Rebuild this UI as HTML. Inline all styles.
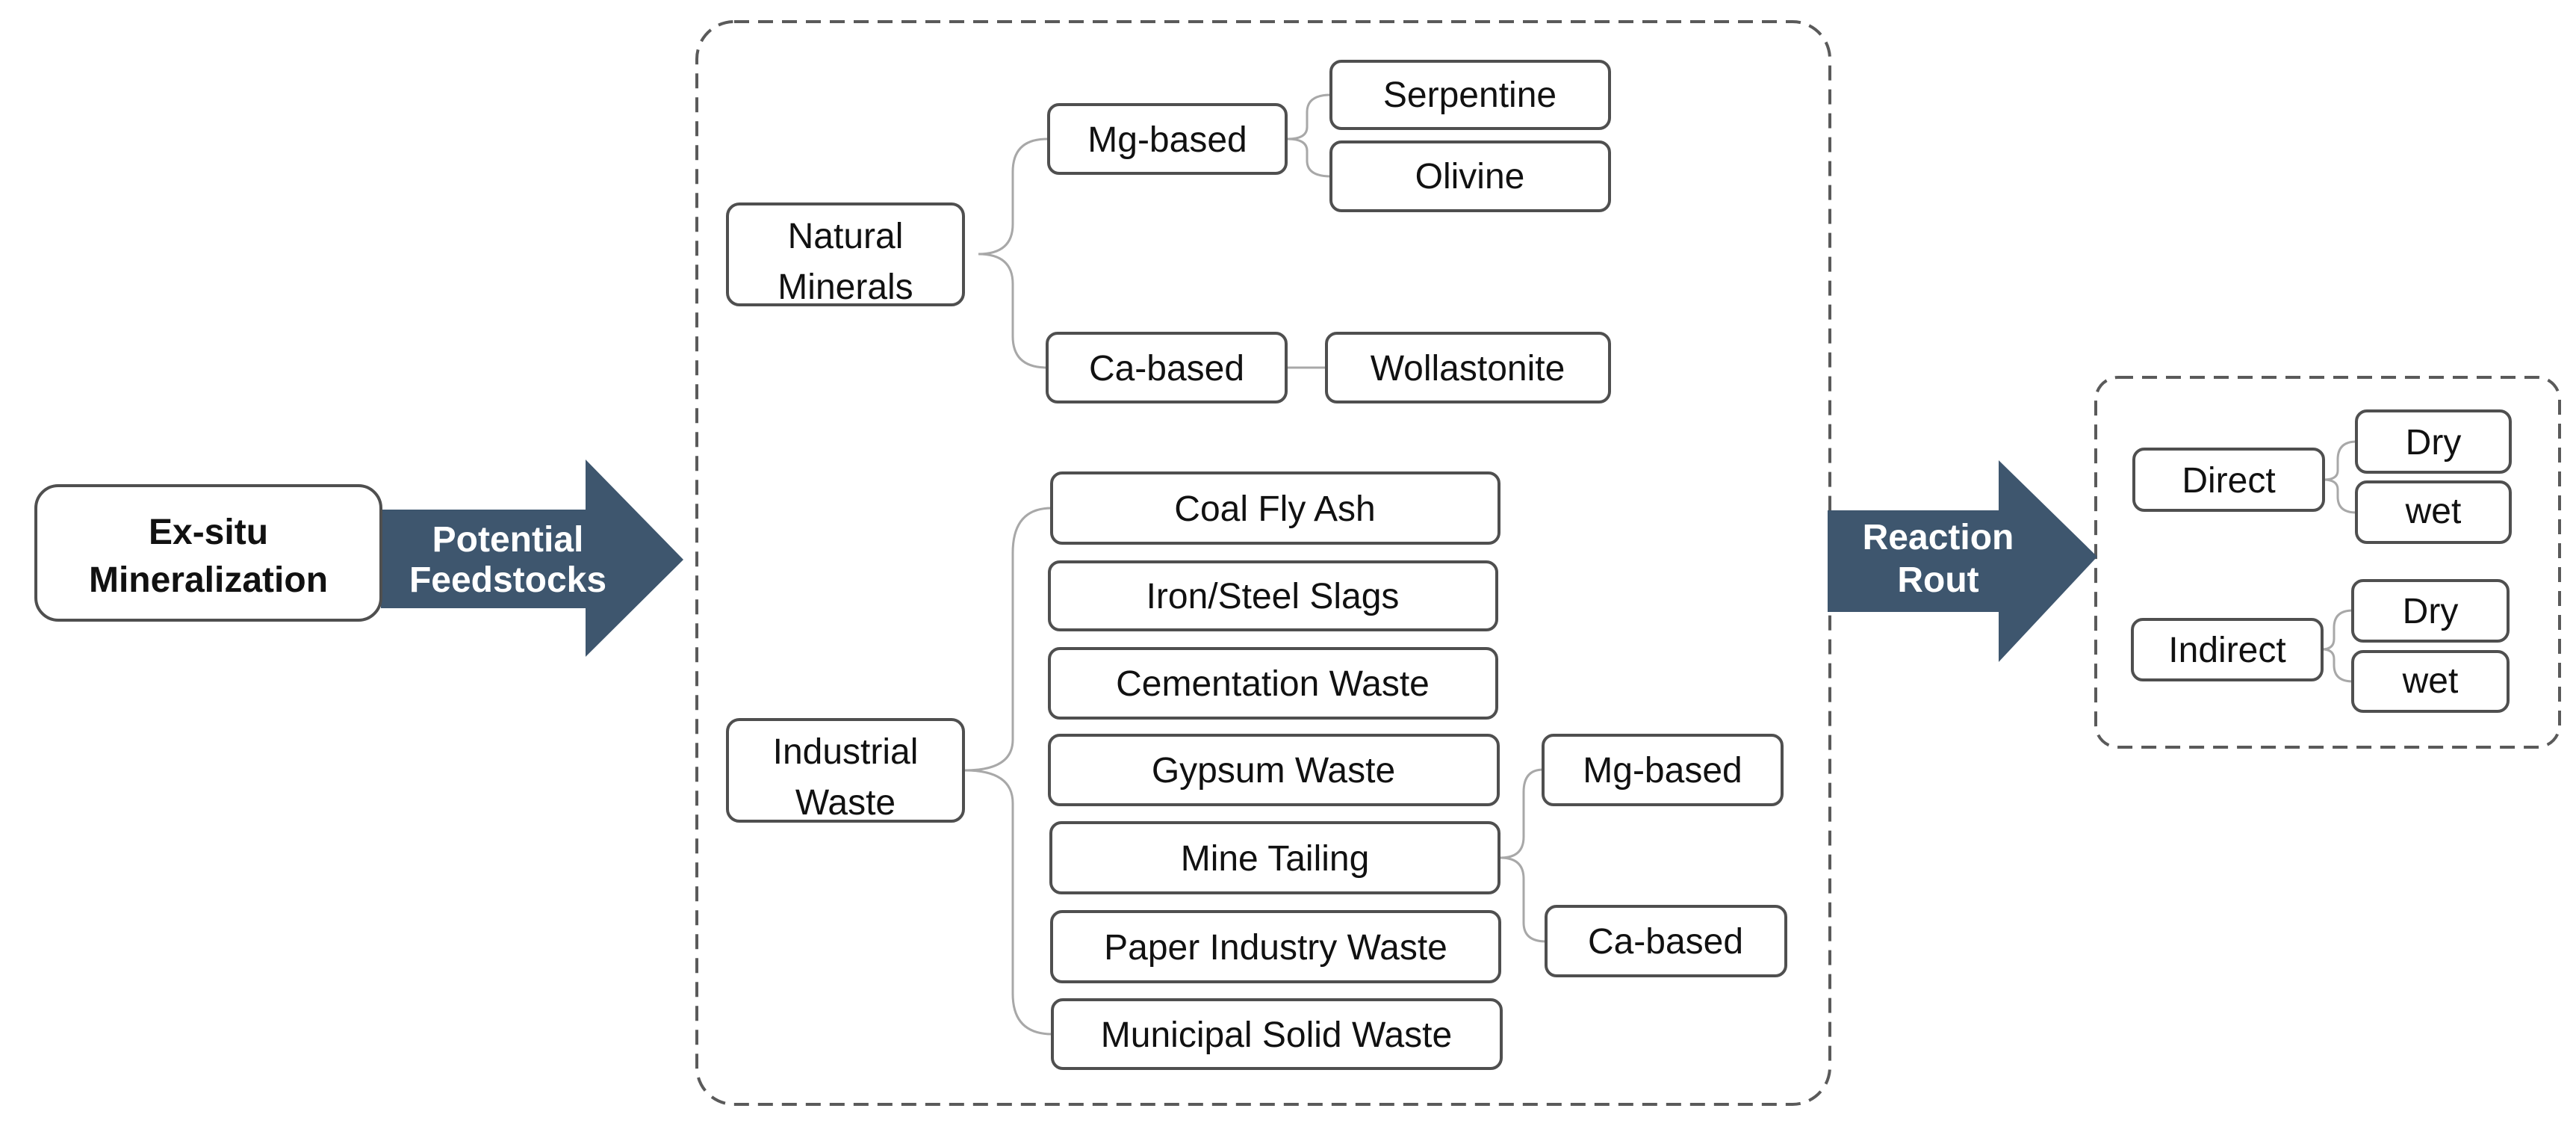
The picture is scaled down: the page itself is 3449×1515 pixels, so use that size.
<!DOCTYPE html>
<html><head><meta charset="utf-8"><style>
html,body{margin:0;padding:0;background:#fff;}
svg{display:block;}
text{font-family:"Liberation Sans",Arial,sans-serif;}
</style></head><body>
<svg width="3449" height="1515" viewBox="0 0 3449 1515" xmlns="http://www.w3.org/2000/svg">
<g fill="none" stroke="#5a5a5a" stroke-width="4" stroke-dasharray="20,12">
<rect x="933" y="29" width="1517" height="1449" rx="50"/>
<rect x="2806" y="505" width="621" height="495" rx="30"/>
</g>
<!-- arrows -->
<polygon points="510,682 784,682 784,615 915,749 784,879 784,814 510,814" fill="#3e566e"/>
<polygon points="2447,683 2676,683 2676,616 2808,745 2676,886 2676,819 2447,819" fill="#3e566e"/>
<g fill="#fff" font-weight="bold" font-size="48" text-anchor="middle">
<text x="680" y="738">Potential</text>
<text x="680" y="792">Feedstocks</text>
<text x="2595" y="735">Reaction</text>
<text x="2595" y="792">Rout</text>
</g>
<!-- connectors -->
<g fill="none" stroke="#a8a8a8" stroke-width="3">
<path d="M1402,186 Q1356,186 1356,230 L1356,300 Q1356,340 1310,340 Q1356,340 1356,380 L1356,450 Q1356,492 1402,492"/>
<path d="M1782,127 Q1750,127 1750,150 L1750,170 Q1750,186 1724,186 Q1750,186 1750,202 L1750,215 Q1750,236 1782,236"/>
<line x1="1722" y1="492" x2="1776" y2="492"/>
<path d="M1408,680 Q1356,680 1356,740 L1356,990 Q1356,1031 1292,1031 Q1356,1031 1356,1075 L1356,1330 Q1356,1384 1409,1384"/>
<path d="M2066,1030 Q2040,1030 2040,1060 L2040,1120 Q2040,1148 2009,1148 Q2040,1148 2040,1176 L2040,1235 Q2040,1260 2070,1260"/>
<path d="M3155,591 Q3130,591 3130,615 L3130,630 Q3130,642 3111,642 Q3130,642 3130,655 L3130,665 Q3130,686 3155,686"/>
<path d="M3150,817 Q3125,817 3125,840 L3125,855 Q3125,869 3109,869 Q3125,869 3125,882 L3125,890 Q3125,912 3150,912"/>
</g>
<!-- boxes -->
<g fill="#fff" stroke="#4f4f4f" stroke-width="4">
<rect x="48" y="650" width="462" height="180" rx="30"/>
<rect x="974" y="273" width="316" height="135" rx="16"/>
<rect x="1404" y="140" width="318" height="92" rx="14"/>
<rect x="1782" y="82" width="373" height="90" rx="14"/>
<rect x="1782" y="190" width="373" height="92" rx="14"/>
<rect x="1402" y="446" width="320" height="92" rx="14"/>
<rect x="1776" y="446" width="379" height="92" rx="14"/>
<rect x="974" y="963" width="316" height="136" rx="16"/>
<rect x="1408" y="633" width="599" height="94" rx="14"/>
<rect x="1405" y="752" width="599" height="91" rx="14"/>
<rect x="1405" y="868" width="599" height="93" rx="14"/>
<rect x="1405" y="984" width="601" height="93" rx="14"/>
<rect x="1407" y="1101" width="600" height="94" rx="14"/>
<rect x="1408" y="1220" width="600" height="94" rx="14"/>
<rect x="1409" y="1338" width="601" height="92" rx="14"/>
<rect x="2066" y="984" width="320" height="93" rx="14"/>
<rect x="2070" y="1213" width="321" height="93" rx="14"/>
<rect x="2857" y="601" width="254" height="82" rx="14"/>
<rect x="3155" y="550" width="206" height="82" rx="14"/>
<rect x="3155" y="645" width="206" height="81" rx="14"/>
<rect x="2855" y="829" width="254" height="81" rx="14"/>
<rect x="3150" y="777" width="208" height="81" rx="14"/>
<rect x="3150" y="872" width="208" height="80" rx="14"/>
</g>
<g fill="#111" font-size="48" text-anchor="middle">
<text x="279" y="728" font-weight="bold">Ex-situ</text>
<text x="279" y="792" font-weight="bold">Mineralization</text>
<text x="1132" y="332">Natural</text>
<text x="1132" y="400">Minerals</text>
<text x="1563" y="203">Mg-based</text>
<text x="1968" y="143">Serpentine</text>
<text x="1968" y="252">Olivine</text>
<text x="1562" y="509">Ca-based</text>
<text x="1965" y="509">Wollastonite</text>
<text x="1132" y="1022">Industrial</text>
<text x="1132" y="1090">Waste</text>
<text x="1707" y="697">Coal Fly Ash</text>
<text x="1704" y="814">Iron/Steel Slags</text>
<text x="1704" y="931">Cementation Waste</text>
<text x="1705" y="1047">Gypsum Waste</text>
<text x="1707" y="1165">Mine Tailing</text>
<text x="1708" y="1284">Paper Industry Waste</text>
<text x="1709" y="1401">Municipal Solid Waste</text>
<text x="2226" y="1047">Mg-based</text>
<text x="2230" y="1276">Ca-based</text>
<text x="2984" y="659">Direct</text>
<text x="3258" y="608">Dry</text>
<text x="3258" y="700">wet</text>
<text x="2982" y="886">Indirect</text>
<text x="3254" y="834">Dry</text>
<text x="3254" y="927">wet</text>
</g>
</svg>
</body></html>
